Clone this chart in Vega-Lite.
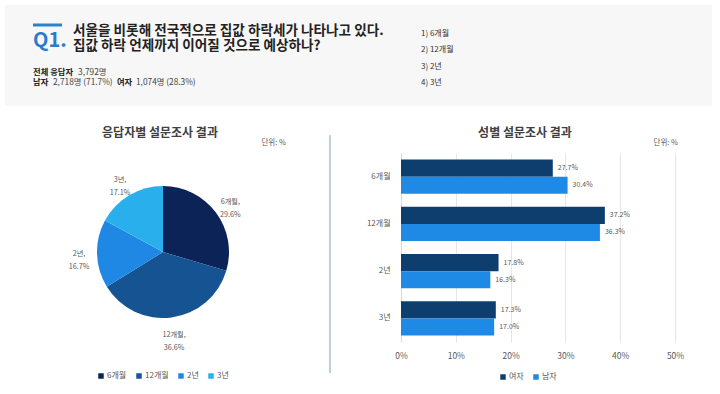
{
  "$schema": "https://vega.github.io/schema/vega-lite/v6.json",
  "padding": {"left": 5, "top": 5, "right": 0, "bottom": 0},
  "background": "#ffffff",
  "bounds": "flush",
  "spacing": 47,
  "resolve": {"scale": {"color": "independent"}, "legend": {"color": "independent"}},
  "config": {"view": {"stroke": null}, "font": "Noto Sans CJK KR"},
  "datasets": {
    "texts": [
      {"k": "q", "t": "Q1."},
      {"k": "l1", "t": "서울을 비롯해 전국적으로 집값 하락세가 나타나고 있다."},
      {"k": "l2", "t": "집값 하락 언제까지 이어질 것으로 예상하나?"},
      {"k": "a1", "t": "전체 응답자"},
      {"k": "a2", "t": "3,792명"},
      {"k": "b1", "t": "남자"},
      {"k": "b2", "t": "2,718명 (71.7%)"},
      {"k": "b3", "t": "여자"},
      {"k": "b4", "t": "1,074명 (28.3%)"},
      {"k": "o1", "t": "1) 6개월"},
      {"k": "o2", "t": "2) 12개월"},
      {"k": "o3", "t": "3) 2년"},
      {"k": "o4", "t": "4) 3년"},
      {"k": "pt", "t": "응답자별 설문조사 결과"},
      {"k": "bt", "t": "성별 설문조사 결과"},
      {"k": "u", "t": "단위: %"}
    ],
    "total": [
      {"cat": "6개월", "i": 1, "v": 29.6},
      {"cat": "12개월", "i": 2, "v": 36.6},
      {"cat": "2년", "i": 3, "v": 16.7},
      {"cat": "3년", "i": 4, "v": 17.1}
    ],
    "gender": [
      {"cat": "6개월", "g": "여자", "v": 27.7},
      {"cat": "6개월", "g": "남자", "v": 30.4},
      {"cat": "12개월", "g": "여자", "v": 37.2},
      {"cat": "12개월", "g": "남자", "v": 36.3},
      {"cat": "2년", "g": "여자", "v": 17.8},
      {"cat": "2년", "g": "남자", "v": 16.3},
      {"cat": "3년", "g": "여자", "v": 17.3},
      {"cat": "3년", "g": "남자", "v": 17.0}
    ]
  },
  "vconcat": [
    {
      "width": 707,
      "height": 101,
      "data": {"name": "texts"},
      "layer": [
        {"transform": [{"filter": "datum.k == 'q'"}], "mark": {"type": "rect", "color": "#f7f7f7"},
         "encoding": {"x": {"datum": 0, "type": "quantitative", "scale": {"domain": [0, 100]}, "axis": null}, "x2": {"datum": 100},
                      "y": {"datum": 0, "type": "quantitative", "scale": {"domain": [0, 100], "reverse": true}, "axis": null}, "y2": {"datum": 100}}},
        {"transform": [{"filter": "datum.k == 'q'"}], "mark": {"type": "rule", "color": "#2e80d0", "strokeWidth": 3},
         "encoding": {"x": {"datum": 3.96, "type": "quantitative", "scale": {"domain": [0, 100]}, "axis": null}, "x2": {"datum": 8.06},
                      "y": {"datum": 19.8, "type": "quantitative", "scale": {"domain": [0, 100], "reverse": true}, "axis": null}}},
        {"transform": [{"filter": "datum.k == 'q'"}], "mark": {"type": "text", "align": "left", "baseline": "middle", "fontSize": 20, "fontWeight": "bold", "color": "#2b7bca"},
         "encoding": {"x": {"datum": 3.96, "type": "quantitative", "scale": {"domain": [0, 100]}, "axis": null},
                      "y": {"datum": 36.1, "type": "quantitative", "scale": {"domain": [0, 100], "reverse": true}, "axis": null}, "text": {"field": "t"}}},
        {"transform": [{"filter": "datum.k == 'l1'"}], "mark": {"type": "text", "align": "left", "baseline": "middle", "fontSize": 13.6, "fontWeight": "bold", "color": "#222222"},
         "encoding": {"x": {"datum": 9.62, "type": "quantitative", "scale": {"domain": [0, 100]}, "axis": null},
                      "y": {"datum": 25.7, "type": "quantitative", "scale": {"domain": [0, 100], "reverse": true}, "axis": null}, "text": {"field": "t"}}},
        {"transform": [{"filter": "datum.k == 'l2'"}], "mark": {"type": "text", "align": "left", "baseline": "middle", "fontSize": 13.6, "fontWeight": "bold", "color": "#222222"},
         "encoding": {"x": {"datum": 9.62, "type": "quantitative", "scale": {"domain": [0, 100]}, "axis": null},
                      "y": {"datum": 40.6, "type": "quantitative", "scale": {"domain": [0, 100], "reverse": true}, "axis": null}, "text": {"field": "t"}}},
        {"transform": [{"filter": "datum.k == 'a1'"}], "mark": {"type": "text", "align": "left", "baseline": "middle", "fontSize": 8.3, "fontWeight": "bold", "color": "#222222"},
         "encoding": {"x": {"datum": 3.96, "type": "quantitative", "scale": {"domain": [0, 100]}, "axis": null},
                      "y": {"datum": 67.3, "type": "quantitative", "scale": {"domain": [0, 100], "reverse": true}, "axis": null}, "text": {"field": "t"}}},
        {"transform": [{"filter": "datum.k == 'a2'"}], "mark": {"type": "text", "align": "left", "baseline": "middle", "fontSize": 8.3, "color": "#444444"},
         "encoding": {"x": {"datum": 10.33, "type": "quantitative", "scale": {"domain": [0, 100]}, "axis": null},
                      "y": {"datum": 67.3, "type": "quantitative", "scale": {"domain": [0, 100], "reverse": true}, "axis": null}, "text": {"field": "t"}}},
        {"transform": [{"filter": "datum.k == 'b1'"}], "mark": {"type": "text", "align": "left", "baseline": "middle", "fontSize": 8.3, "fontWeight": "bold", "color": "#222222"},
         "encoding": {"x": {"datum": 3.96, "type": "quantitative", "scale": {"domain": [0, 100]}, "axis": null},
                      "y": {"datum": 77.6, "type": "quantitative", "scale": {"domain": [0, 100], "reverse": true}, "axis": null}, "text": {"field": "t"}}},
        {"transform": [{"filter": "datum.k == 'b2'"}], "mark": {"type": "text", "align": "left", "baseline": "middle", "fontSize": 8.3, "color": "#444444"},
         "encoding": {"x": {"datum": 6.79, "type": "quantitative", "scale": {"domain": [0, 100]}, "axis": null},
                      "y": {"datum": 77.6, "type": "quantitative", "scale": {"domain": [0, 100], "reverse": true}, "axis": null}, "text": {"field": "t"}}},
        {"transform": [{"filter": "datum.k == 'b3'"}], "mark": {"type": "text", "align": "left", "baseline": "middle", "fontSize": 8.3, "fontWeight": "bold", "color": "#222222"},
         "encoding": {"x": {"datum": 15.84, "type": "quantitative", "scale": {"domain": [0, 100]}, "axis": null},
                      "y": {"datum": 77.6, "type": "quantitative", "scale": {"domain": [0, 100], "reverse": true}, "axis": null}, "text": {"field": "t"}}},
        {"transform": [{"filter": "datum.k == 'b4'"}], "mark": {"type": "text", "align": "left", "baseline": "middle", "fontSize": 8.3, "color": "#444444"},
         "encoding": {"x": {"datum": 18.53, "type": "quantitative", "scale": {"domain": [0, 100]}, "axis": null},
                      "y": {"datum": 77.6, "type": "quantitative", "scale": {"domain": [0, 100], "reverse": true}, "axis": null}, "text": {"field": "t"}}},
        {"transform": [{"filter": "datum.k == 'o1'"}], "mark": {"type": "text", "align": "left", "baseline": "middle", "fontSize": 8, "color": "#333333"},
         "encoding": {"x": {"datum": 58.84, "type": "quantitative", "scale": {"domain": [0, 100]}, "axis": null},
                      "y": {"datum": 28.9, "type": "quantitative", "scale": {"domain": [0, 100], "reverse": true}, "axis": null}, "text": {"field": "t"}}},
        {"transform": [{"filter": "datum.k == 'o2'"}], "mark": {"type": "text", "align": "left", "baseline": "middle", "fontSize": 8, "color": "#333333"},
         "encoding": {"x": {"datum": 58.84, "type": "quantitative", "scale": {"domain": [0, 100]}, "axis": null},
                      "y": {"datum": 44.6, "type": "quantitative", "scale": {"domain": [0, 100], "reverse": true}, "axis": null}, "text": {"field": "t"}}},
        {"transform": [{"filter": "datum.k == 'o3'"}], "mark": {"type": "text", "align": "left", "baseline": "middle", "fontSize": 8, "color": "#333333"},
         "encoding": {"x": {"datum": 58.84, "type": "quantitative", "scale": {"domain": [0, 100]}, "axis": null},
                      "y": {"datum": 61.4, "type": "quantitative", "scale": {"domain": [0, 100], "reverse": true}, "axis": null}, "text": {"field": "t"}}},
        {"transform": [{"filter": "datum.k == 'o4'"}], "mark": {"type": "text", "align": "left", "baseline": "middle", "fontSize": 8, "color": "#333333"},
         "encoding": {"x": {"datum": 58.84, "type": "quantitative", "scale": {"domain": [0, 100]}, "axis": null},
                      "y": {"datum": 77.2, "type": "quantitative", "scale": {"domain": [0, 100], "reverse": true}, "axis": null}, "text": {"field": "t"}}}
      ]
    },
    {
      "bounds": "flush",
      "spacing": 9,
      "resolve": {"scale": {"color": "independent"}, "legend": {"color": "independent"}},
      "hconcat": [
        {
          "width": 316,
          "height": 198,
          "layer": [
            {
              "data": {"name": "total"},
              "layer": [
                {"mark": {"type": "arc", "outerRadius": 66},
                 "encoding": {
                   "theta": {"field": "v", "type": "quantitative", "stack": true},
                   "order": {"field": "i", "type": "quantitative"},
                   "color": {"field": "cat", "type": "nominal",
                     "scale": {"domain": ["6개월", "12개월", "2년", "3년"], "range": ["#0b2356", "#155393", "#1e88e4", "#29b0ec"]},
                     "legend": {"orient": "none", "direction": "horizontal", "legendX": 92, "legendY": 219, "title": null, "symbolType": "square", "symbolSize": 30, "symbolStrokeWidth": 0, "symbolOpacity": 1, "labelFontSize": 8, "labelColor": "#595959", "labelOffset": 2, "columnPadding": 8, "padding": 0}}
                 }},
                {"transform": [{"calculate": "[datum.cat + ',', format(datum.v, '.1f') + '%']", "as": "lab"}],
                 "mark": {"type": "text", "radius": 84, "fontSize": 7.2, "color": "#595959", "lineHeight": 13, "baseline": "middle", "align": "center"},
                 "encoding": {
                   "theta": {"field": "v", "type": "quantitative", "stack": true},
                   "order": {"field": "i", "type": "quantitative"},
                   "detail": {"field": "cat", "type": "nominal"},
                   "text": {"field": "lab"}
                 }}
              ]
            },
            {
              "data": {"name": "texts"},
              "layer": [
                {"transform": [{"filter": "datum.k == 'pt'"}], "mark": {"type": "text", "align": "center", "baseline": "middle", "fontSize": 12, "fontWeight": "bold", "color": "#404040"},
                 "encoding": {"x": {"datum": 0.4905, "type": "quantitative", "scale": {"domain": [0, 1]}, "axis": null},
                              "y": {"datum": 1.101, "type": "quantitative", "scale": {"domain": [0, 1]}, "axis": null}, "text": {"field": "t"}}},
                {"transform": [{"filter": "datum.k == 'u'"}], "mark": {"type": "text", "align": "right", "baseline": "middle", "fontSize": 7.5, "color": "#595959"},
                 "encoding": {"x": {"datum": 0.889, "type": "quantitative", "scale": {"domain": [0, 1]}, "axis": null},
                              "y": {"datum": 1.0505, "type": "quantitative", "scale": {"domain": [0, 1]}, "axis": null}, "text": {"field": "t"}}}
              ]
            }
          ]
        },
        {
          "width": 62,
          "height": 198,
          "data": {"name": "texts"},
          "transform": [{"filter": "datum.k == 'q'"}],
          "mark": {"type": "rule", "color": "#a9bfd6", "strokeWidth": 1.5},
          "encoding": {
            "x": {"datum": 0, "type": "quantitative", "scale": {"domain": [0, 1]}, "axis": null},
            "y": {"datum": -0.111, "type": "quantitative", "scale": {"domain": [0, 1]}, "axis": null},
            "y2": {"datum": 1.091}
          }
        },
        {
          "width": 274,
          "height": 189,
          "resolve": {"scale": {"x": "independent", "y": "independent"}},
          "layer": [
            {
              "data": {"name": "gender"},
              "encoding": {
                "y": {"field": "cat", "type": "nominal", "sort": ["6개월", "12개월", "2년", "3년"],
                      "scale": {"paddingInner": 0.28, "paddingOuter": 0.14},
                      "axis": {"title": null, "ticks": false, "domainColor": "#d9d9d9", "labelColor": "#595959", "labelFontSize": 8, "labelPadding": 11}},
                "yOffset": {"field": "g", "type": "nominal", "sort": ["여자", "남자"], "scale": {"paddingInner": 0, "paddingOuter": 0}},
                "x": {"field": "v", "type": "quantitative", "scale": {"domain": [0, 50]},
                      "axis": {"title": null, "values": [0, 10, 20, 30, 40, 50], "labelExpr": "datum.value + '%'", "labelFlush": false, "domain": false, "ticks": false, "gridColor": "#e6e6e6", "labelColor": "#595959", "labelFontSize": 8.5, "labelPadding": 9}}
              },
              "layer": [
                {"mark": {"type": "bar"},
                 "encoding": {"color": {"field": "g", "type": "nominal",
                   "scale": {"domain": ["여자", "남자"], "range": ["#0d3e6e", "#1f8ae6"]},
                   "legend": {"orient": "none", "direction": "horizontal", "legendX": 98, "legendY": 220, "title": null, "symbolType": "square", "symbolSize": 30, "symbolStrokeWidth": 0, "symbolOpacity": 1, "labelFontSize": 8, "labelColor": "#595959", "labelOffset": 2, "columnPadding": 8, "padding": 0}}}},
                {"transform": [{"calculate": "format(datum.v, '.1f') + '%'", "as": "lab"}],
                 "mark": {"type": "text", "align": "left", "baseline": "middle", "dx": 5, "fontSize": 7, "color": "#595959"},
                 "encoding": {"text": {"field": "lab"}}}
              ]
            },
            {
              "data": {"name": "texts"},
              "layer": [
                {"transform": [{"filter": "datum.k == 'bt'"}], "mark": {"type": "text", "align": "center", "baseline": "middle", "fontSize": 12, "fontWeight": "bold", "color": "#404040"},
                 "encoding": {"x": {"datum": 0.4526, "type": "quantitative", "scale": {"domain": [0, 1]}, "axis": null},
                              "y": {"datum": 1.1058, "type": "quantitative", "scale": {"domain": [0, 1]}, "axis": null}, "text": {"field": "t"}}},
                {"transform": [{"filter": "datum.k == 'u'"}], "mark": {"type": "text", "align": "right", "baseline": "middle", "fontSize": 7.5, "color": "#595959"},
                 "encoding": {"x": {"datum": 1.011, "type": "quantitative", "scale": {"domain": [0, 1]}, "axis": null},
                              "y": {"datum": 1.0529, "type": "quantitative", "scale": {"domain": [0, 1]}, "axis": null}, "text": {"field": "t"}}}
              ]
            }
          ]
        }
      ]
    }
  ]
}
